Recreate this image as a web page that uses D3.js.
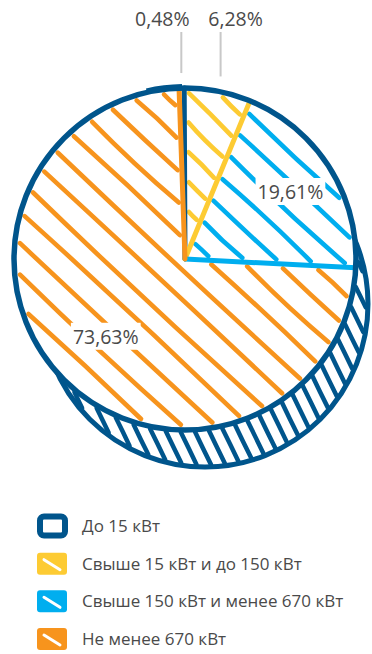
<!DOCTYPE html>
<html><head><meta charset="utf-8">
<script src="https://cdn.jsdelivr.net/npm/d3@7"></script>
<style>
body{margin:0;background:#fff}
svg{display:block}
text{font-family:"Open Sans",sans-serif}
</style></head>
<body><svg id="c" width="372" height="654"></svg>
<script>
// ---- data ----
const categories = ["До 15 кВт", "Свыше 15 кВт и до 150 кВт", "Свыше 150 кВт и менее 670 кВт", "Не менее 670 кВт"];
const values = [0.48, 6.28, 19.61, 73.63];
const valueLabels = ["0,48%", "6,28%", "19,61%", "73,63%"];
const colors = ["#00558c", "#fdcb33", "#00aeef", "#f7941d"];

// ---- style ----
const dark = "#00558c";
const textColor = "#4a4a4a";
const cx = 185, cy = 259, R = 171;
const cx2 = 205, cy2 = 304, R2 = 163;       // depth (cylinder bottom)
const startDeg = -2;
const hatchAngle = [45, 45, 43, 43];
const hatchSpacing = [22, 21, 22, 23];
const hatchPhase = [0, 6, 4, 9];
const labelRadius = [0, 0, 0.73, 0.65];     // inside label radius (fraction of R)
const outsideDx = [-19, 15];
const wig = [0.6, -0.3, 1, -0.8, 0.2, 0.9, -0.5];

const svg = d3.select("#c");
const rad = d => d * Math.PI / 180;

const pie = d3.pie().sort(null).value(d => d)
  .startAngle(rad(startDeg)).endAngle(rad(startDeg) + 2 * Math.PI);
const arcs = pie(values);

function hatch(parent, ox, oy, inside, angleDeg, spacing, color, width, amp, phase) {
  const a = rad(angleDeg), d = [Math.cos(a), Math.sin(a)], n = [-Math.sin(a), Math.cos(a)];
  const L = 260, K = Math.ceil(L / spacing);
  const segs = [];
  for (let k = -K; k <= K; k++) {
    const o = k * spacing + phase;
    let run = null;
    for (let t = -L; t <= L; t += 0.5) {
      const p = [ox + n[0] * o + d[0] * t, oy + n[1] * o + d[1] * t];
      if (inside(p)) { if (!run) run = [p, p]; else run[1] = p; }
      else if (run) { segs.push({ run, k }); run = null; }
    }
    if (run) segs.push({ run, k });
  }
  parent.append("g").selectAll("path").data(segs.filter(s => {
      const [p, q] = s.run; return Math.hypot(q[0] - p[0], q[1] - p[1]) > 3;
    })).join("path")
    .attr("d", s => {
      const [p, q] = s.run;
      const len = Math.hypot(q[0] - p[0], q[1] - p[1]);
      const b = amp * wig[((s.k % 7) + 7) % 7] * Math.min(1, len / 80);
      const m = [(p[0] + q[0]) / 2 + n[0] * b, (p[1] + q[1]) / 2 + n[1] * b];
      return `M${p[0]},${p[1]}Q${m[0]},${m[1]} ${q[0]},${q[1]}`;
    })
    .attr("fill", "none").attr("stroke", color).attr("stroke-width", width)
    .attr("stroke-linecap", "round");
}

function sliceInside(a0, a1, inset) {
  const span = a1 - a0;
  return p => {
    const dx = p[0] - cx, dy = p[1] - cy, r = Math.hypot(dx, dy);
    if (r > R - 5) return false;
    let th = Math.atan2(dx, -dy) - a0;
    th = ((th % (2 * Math.PI)) + 2 * Math.PI) % (2 * Math.PI);
    if (th > span) return false;
    if (th < Math.PI / 2 && r * Math.sin(th) < inset) return false;
    const e = span - th;
    if (e < Math.PI / 2 && r * Math.sin(e) < inset) return false;
    return true;
  };
}
const bandInside = p => Math.hypot(p[0] - cx2, p[1] - cy2) < R2 - 2 && Math.hypot(p[0] - cx, p[1] - cy) > R + 2;

const g = svg.append("g");
// depth
g.append("circle").attr("cx", cx2).attr("cy", cy2).attr("r", R2).attr("fill", "#fff");
hatch(g, cx2, cy2, bandInside, 64, 13, dark, 4.5, 0.5, 0);
g.append("circle").attr("cx", cx2).attr("cy", cy2).attr("r", R2)
  .attr("fill", "none").attr("stroke", dark).attr("stroke-width", 5);

// top face
g.append("circle").attr("cx", cx).attr("cy", cy).attr("r", R).attr("fill", "#fff");
arcs.forEach((a, i) => {
  if (values[i] < 1) return;
  hatch(g, cx, cy, sliceInside(a.startAngle, a.endAngle, 4), hatchAngle[i], hatchSpacing[i],
    colors[i], 4.6, 3, hatchPhase[i]);
});
// slice edges
g.append("g").selectAll("line").data(arcs).join("line")
  .attr("x1", cx).attr("y1", cy)
  .attr("x2", a => cx + R * Math.sin(a.endAngle))
  .attr("y2", a => cy - R * Math.cos(a.endAngle))
  .attr("stroke", (a, i) => colors[i]).attr("stroke-width", 5).attr("stroke-linecap", "round");
// outline
g.append("circle").attr("cx", cx).attr("cy", cy).attr("r", R)
  .attr("fill", "none").attr("stroke", dark).attr("stroke-width", 5.5);
g.append("path")
  .attr("transform", `translate(${cx},${cy - 1.5})`)
  .attr("d", d3.arc().innerRadius(R).outerRadius(R).startAngle(rad(-13)).endAngle(rad(-1))())
  .attr("fill", "none").attr("stroke", dark).attr("stroke-width", 5);

// labels
arcs.forEach((a, i) => {
  const mid = (a.startAngle + a.endAngle) / 2;
  if (values[i] < 10) {
    const lx = cx + (R + 15) * Math.sin(mid), ly = cy - (R + 15) * Math.cos(mid);
    g.append("line").attr("x1", lx).attr("x2", lx).attr("y1", ly).attr("y2", 32)
      .attr("stroke", "#c8c8c8").attr("stroke-width", 2);
    g.append("text").attr("x", lx + outsideDx[i]).attr("y", 26).attr("text-anchor", "middle")
      .attr("font-size", 19.5).attr("fill", textColor).text(valueLabels[i]);
  } else {
    const rr = labelRadius[i] * R;
    const tx = cx + rr * Math.sin(mid), ty = cy - rr * Math.cos(mid);
    const lg = g.append("g");
    const t = lg.append("text").attr("x", tx).attr("y", ty).attr("dy", "0.35em")
      .attr("text-anchor", "middle").attr("font-size", 19.5).attr("fill", textColor).text(valueLabels[i]);
    const bb = t.node().getBBox();
    lg.insert("rect", "text").attr("x", bb.x - 2).attr("y", bb.y).attr("width", bb.width + 4)
      .attr("height", bb.height).attr("fill", "#fff");
  }
});

// legend
const legY = d3.scalePoint().domain(categories).range([526, 639]);
const leg = svg.append("g").selectAll("g").data(categories).join("g")
  .attr("transform", d => `translate(37,${legY(d)})`);
leg.each(function (d, i) {
  const s = d3.select(this);
  if (i === 0) {
    s.append("rect").attr("x", 3).attr("y", -9.5).attr("width", 25).attr("height", 19).attr("rx", 4)
      .attr("fill", "#fff").attr("stroke", colors[i]).attr("stroke-width", 6);
  } else {
    s.append("rect").attr("x", 0).attr("y", -11).attr("width", 30).attr("height", 22).attr("rx", 3)
      .attr("fill", colors[i]);
    s.append("path").attr("d", "M7,-4L23,6").attr("stroke", "#fff").attr("stroke-width", 3)
      .attr("stroke-linecap", "round");
  }
  s.append("text").attr("x", 45).attr("y", 0).attr("dy", "0.35em")
    .attr("font-size", 17).attr("fill", textColor).text(d);
});
</script></body></html>
